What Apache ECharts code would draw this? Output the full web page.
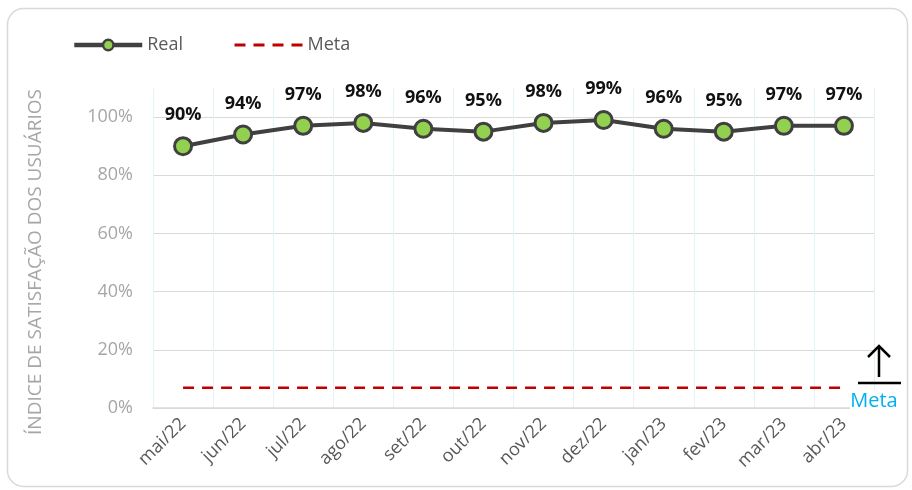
<!DOCTYPE html>
<html><head><meta charset="utf-8">
<script src="https://cdn.jsdelivr.net/npm/echarts@6/dist/echarts.min.js"></script>
<style>html,body{margin:0;padding:0;background:#fff}#c{width:912px;height:490px}</style>
</head><body><div id="c"></div>
<script>
const categories = ['mai/22','jun/22','jul/22','ago/22','set/22','out/22','nov/22','dez/22','jan/23','fev/23','mar/23','abr/23'];
const realValues = [0.90,0.94,0.97,0.98,0.96,0.95,0.98,0.99,0.96,0.95,0.97,0.97];
const metaValues = [0.07,0.07,0.07,0.07,0.07,0.07,0.07,0.07,0.07,0.07,0.07,0.07];
const yTicks = [0,0.2,0.4,0.6,0.8,1.0];
const yAxisTitle = 'ÍNDICE DE SATISFAÇÃO DOS USUÁRIOS';
const noteText = 'Meta';

const chart = echarts.init(document.getElementById('c'));
const font = 'Open Sans';
chart.setOption({
  animation:false,
  backgroundColor:'#fff',
  textStyle:{fontFamily:font},
  grid:{left:153,right:38,top:88,bottom:82},
  legend:{
    left:67, top:31, itemWidth:68, itemHeight:13, itemGap:50,
    textStyle:{color:'#595959',fontSize:18,fontFamily:font},
    data:[
      {name:'Real', lineStyle:{width:4.5}, itemStyle:{borderWidth:2.5}},
      {name:'Meta', itemStyle:{opacity:0}, lineStyle:{width:3}}
    ]
  },
  xAxis:{
    type:'category', data:categories, boundaryGap:true,
    axisLine:{lineStyle:{color:'#d9d9d9',width:1.5}},
    axisTick:{show:false},
    splitLine:{show:true,lineStyle:{color:'#e3f3f9',width:1}},
    axisLabel:{rotate:45,color:'#595959',fontSize:18,margin:13,fontFamily:font}
  },
  yAxis:{
    type:'value', min:0, max:1.1, interval:0.2,
    axisLine:{show:false}, axisTick:{show:false},
    splitLine:{show:true,showMaxLine:false,lineStyle:{color:'#d9d9d9',width:1}},
    axisLabel:{showMaxLabel:false,color:'#a6a6a6',fontSize:18,margin:20,fontFamily:font,
      formatter:v=>yTicks.some(t=>Math.abs(t-v)<1e-9)?Math.round(v*100)+'%':''}
  },
  series:[
    {name:'Real',type:'line',data:realValues,symbol:'circle',symbolSize:17,
     lineStyle:{color:'#404040',width:4},
     itemStyle:{color:'#92d050',borderColor:'#404040',borderWidth:3},
     label:{show:true,position:'top',distance:12,color:'#111',fontWeight:'bold',fontSize:18,fontFamily:font,
       formatter:p=>Math.round(p.value*100)+'%'},
     z:3},
    {name:'Meta',type:'line',data:metaValues,symbol:'none',
     lineStyle:{color:'#c00000',width:2.5,type:[11,8]},
     itemStyle:{color:'#c00000'},z:2}
  ],
  graphic:[
    {type:'rect',shape:{x:7.5,y:8.5,width:900,height:478,r:16},style:{fill:'none',stroke:'#d9d9d9',lineWidth:1.5},silent:true,z:-1},
    {type:'text',x:36,y:262,rotation:Math.PI/2,style:{text:yAxisTitle,fill:'#a6a6a6',fontSize:19,fontFamily:font,align:'center',verticalAlign:'middle'}},
    {type:'line',z:100,shape:{x1:858,y1:383,x2:901,y2:383},style:{stroke:'#000',lineWidth:2.5}},
    {type:'line',z:100,shape:{x1:879,y1:346,x2:879,y2:377},style:{stroke:'#000',lineWidth:2.5}},
    {type:'polyline',z:100,shape:{points:[[868,357],[879,346],[890,357]]},style:{stroke:'#000',lineWidth:2.5,fill:'none'}},
    {type:'rect',z:99,shape:{x:850,y:390,width:48,height:22},style:{fill:'#fff'}},
    {type:'text',z:100,x:874,y:401,style:{text:noteText,fill:'#00b0f0',fontSize:20,fontFamily:font,align:'center',verticalAlign:'middle'}}
  ]
});
</script></body></html>
